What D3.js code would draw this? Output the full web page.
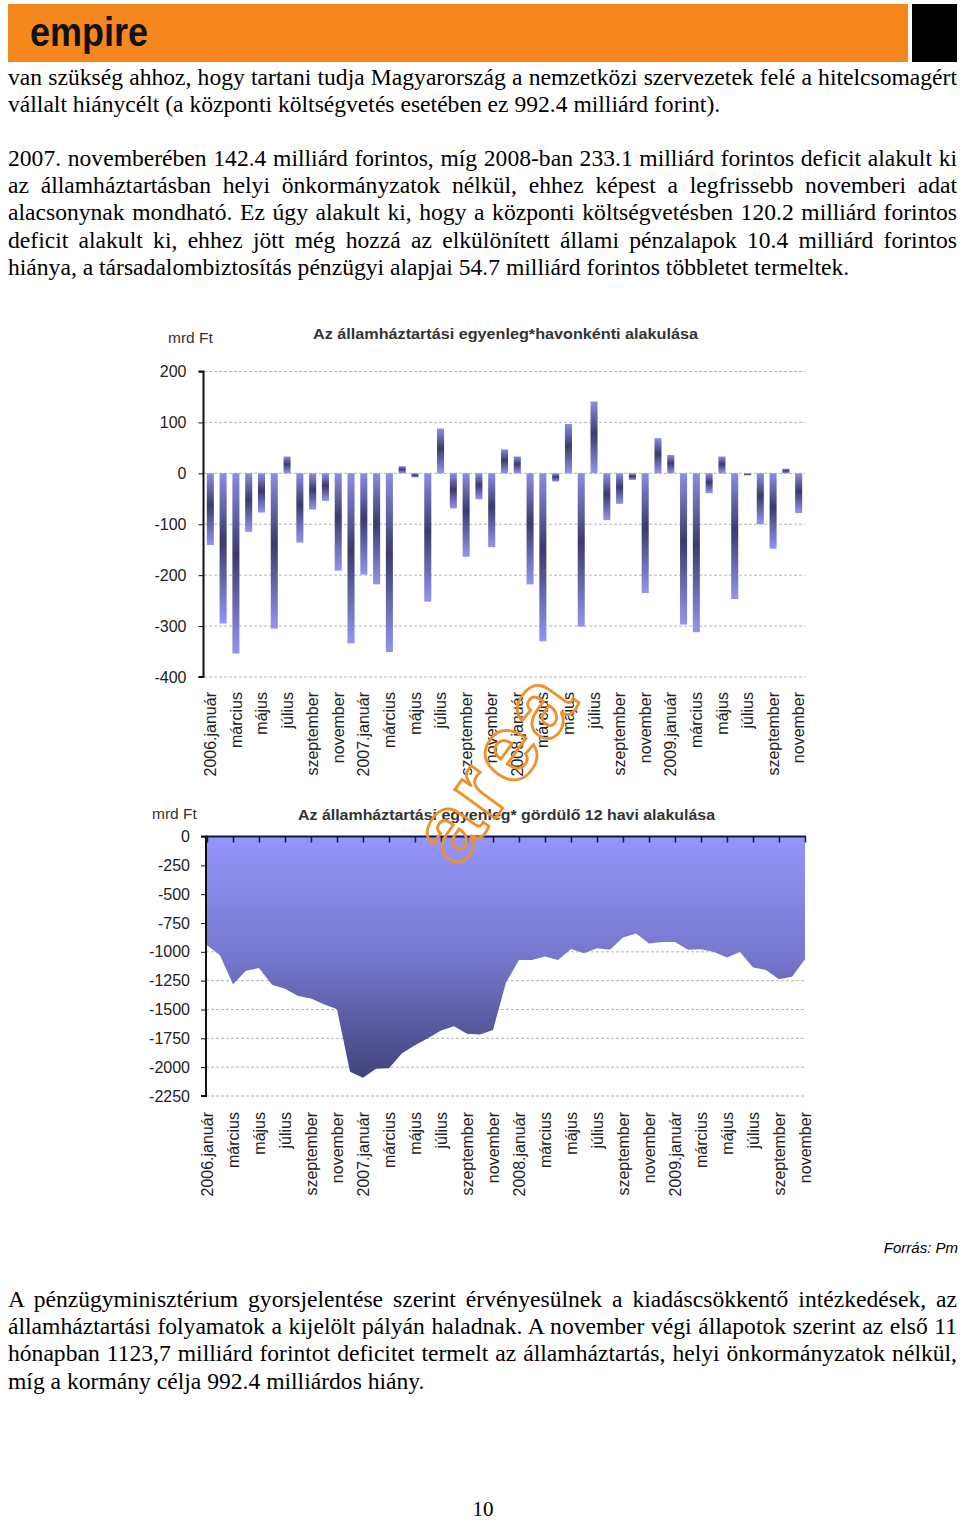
<!DOCTYPE html>
<html><head><meta charset="utf-8">
<script src="https://cdn.jsdelivr.net/npm/d3@7"></script>
<style>body{margin:0;background:#fff}svg{display:block}</style>
</head><body>
<svg id="page" width="960" height="1521"></svg>
<script>
// ---------- DATA ----------
const years = [2006, 2007, 2008, 2009];
const monthNames = ["január","február","március","április","május","június","július","augusztus","szeptember","október","november","december"];
const tickLabels = ["2006.január","március","május","július","szeptember","november",
  "2007.január","március","május","július","szeptember","november",
  "2008.január","március","május","július","szeptember","november",
  "2009.január","március","május","július","szeptember","november"];
const monthlyBalance = [
  -141,-295,-354,-115,-77,-305,33,-136,-71,-54,-191,-334,
  -199,-218,-351,14,-8,-252,88,-69,-164,-51,-145,47,
  33,-218,-330,-16,97,-301,141,-92,-60,-13,-235,69,
  36,-297,-312,-39,33,-247,-4,-100,-148,9,-78];
const rolling12 = [
  -943,-1030,-1281,-1165,-1140,-1285,-1320,-1384,-1405,-1455,-1498,-2040,
  -2091,-2013,-2010,-1880,-1810,-1750,-1683,-1645,-1710,-1716,-1677,-1266,
  -1070,-1070,-1041,-1070,-975,-1012,-969,-983,-876,-842,-928,-914,
  -914,-983,-977,-1001,-1050,-1001,-1136,-1157,-1238,-1215,-1064];
const ticks1 = [200,100,0,-100,-200,-300,-400];
const ticks2 = [0,-250,-500,-750,-1000,-1250,-1500,-1750,-2000,-2250];
const title1 = "Az államháztartási egyenleg*havonkénti alakulása";
const title2 = "Az államháztartási egyenleg* gördülő 12 havi alakulása";
const unitLabel = "mrd Ft";
const para1 = ["van szükség ahhoz, hogy tartani tudja Magyarország a nemzetközi szervezetek felé a hitelcsomagért",
  "vállalt hiánycélt (a központi költségvetés esetében ez 992.4 milliárd forint)."];
const para2 = ["2007. novemberében 142.4 milliárd forintos, míg 2008-ban 233.1 milliárd forintos deficit alakult ki",
  "az államháztartásban helyi önkormányzatok nélkül, ehhez képest a legfrissebb novemberi adat",
  "alacsonynak mondható. Ez úgy alakult ki, hogy a központi költségvetésben 120.2 milliárd forintos",
  "deficit alakult ki, ehhez jött még hozzá az elkülönített állami pénzalapok 10.4 milliárd forintos",
  "hiánya, a társadalombiztosítás pénzügyi alapjai 54.7 milliárd forintos többletet termeltek."];
const para3 = ["A pénzügyminisztérium gyorsjelentése szerint érvényesülnek a kiadáscsökkentő intézkedések, az",
  "államháztartási folyamatok a kijelölt pályán haladnak. A november végi állapotok szerint az első 11",
  "hónapban 1123,7 milliárd forintot deficitet termelt az államháztartás, helyi önkormányzatok nélkül,",
  "míg a kormány célja 992.4 milliárdos hiány."];
const sourceNote = "Forrás: Pm";
const pageNumber = "10";

const categories = [];
years.forEach(y => monthNames.forEach(m => categories.push(y + "." + m)));
categories.length = monthlyBalance.length;

// ---------- PAGE ----------
const svg = d3.select("#page");
svg.append("rect").attr("width",960).attr("height",1521).attr("fill","#fff");

const defs = svg.append("defs");
const bg = defs.append("linearGradient").attr("id","barGrad").attr("x1",0).attr("y1",0).attr("x2",0).attr("y2",1);
bg.append("stop").attr("offset","0%").attr("stop-color","#8c8ce4");
bg.append("stop").attr("offset","45%").attr("stop-color","#3b3b6b");
bg.append("stop").attr("offset","100%").attr("stop-color","#9494f2");
const ag = defs.append("linearGradient").attr("id","areaGrad").attr("gradientUnits","userSpaceOnUse")
  .attr("x1",0).attr("y1",836).attr("x2",0).attr("y2",1082);
ag.append("stop").attr("offset","0%").attr("stop-color","#9696fb");
ag.append("stop").attr("offset","50%").attr("stop-color","#7676cc");
ag.append("stop").attr("offset","100%").attr("stop-color","#41417a");

// header
svg.append("rect").attr("x",8).attr("y",4).attr("width",900).attr("height",58).attr("fill","#f5871f");
svg.append("rect").attr("x",912).attr("y",4).attr("width",45).attr("height",58).attr("fill","#000");
svg.append("text").attr("x",30).attr("y",46).attr("font-family","Liberation Sans, Arial").attr("font-weight","bold")
  .attr("font-size",40).attr("textLength",118).attr("lengthAdjust","spacingAndGlyphs").attr("fill","#111").text("empire");

// body text
function paragraph(lines, firstBaseline) {
  lines.forEach((t, i) => {
    const el = svg.append("text").attr("x",8).attr("y",firstBaseline + i*27.2)
      .attr("font-family","Liberation Serif, Times New Roman, serif").attr("font-size",23.6).attr("fill","#000").text(t);
    if (i < lines.length - 1) {
      const nat = el.node().getComputedTextLength();
      const spaces = (t.match(/ /g) || []).length;
      if (spaces) el.attr("word-spacing", (949 - nat) / spaces);
    }
  });
}
paragraph(para1, 85);
paragraph(para2, 166);
paragraph(para3, 1307);

svg.append("text").attr("x",958).attr("y",1253).attr("text-anchor","end").attr("font-family","Liberation Sans, Arial")
  .attr("font-style","italic").attr("font-size",15).text(sourceNote);
svg.append("text").attr("x",483).attr("y",1516).attr("text-anchor","middle").attr("font-family","Liberation Serif, serif")
  .attr("font-size",21).text(pageNumber);

const sans = "Liberation Sans, Arial, sans-serif";
const fmt = d => String(d);

// ---------- CHART 1 ----------
const x1 = d3.scaleBand().domain(categories).range([204, 805]).paddingInner(0.45).paddingOuter(0.22);
const y1 = d3.scaleLinear().domain([-400, 200]).range([677, 371.5]);
const g1 = svg.append("g");
g1.selectAll("line.grid").data(ticks1).join("line").attr("class","grid")
  .attr("x1",204).attr("x2",805).attr("y1",d=>y1(d)).attr("y2",d=>y1(d))
  .attr("stroke","#b5b5b5").attr("stroke-dasharray","3,2");
g1.selectAll("rect.bar").data(monthlyBalance).join("rect").attr("class","bar")
  .attr("x",(d,i)=>x1(categories[i])).attr("width",x1.bandwidth())
  .attr("y",d=>y1(Math.max(0,d))).attr("height",d=>Math.max(1,Math.abs(y1(d)-y1(0))))
  .attr("fill","url(#barGrad)");
const ax1 = g1.append("g").attr("transform","translate(203.5,0)")
  .call(d3.axisLeft(y1).tickValues(ticks1).tickSize(5).tickPadding(12).tickFormat(fmt));
ax1.select(".domain").attr("stroke","#111").attr("stroke-width",2).attr("d","M-5,371.5H0V677H-5");
ax1.selectAll(".tick line").attr("stroke","#111");
ax1.selectAll("text").attr("font-family",sans).attr("font-size",16).attr("fill","#222");
g1.selectAll("text.xl").data(tickLabels).join("text").attr("class","xl")
  .attr("transform",(d,k)=>`translate(${x1(categories[k*2]) + x1.bandwidth()/2},692) rotate(-90)`)
  .attr("text-anchor","end").attr("dy","0.35em").attr("font-family",sans).attr("font-size",16).attr("fill","#222").text(d=>d);
g1.append("text").attr("x",168).attr("y",343).attr("font-family",sans).attr("font-size",15.5).attr("fill","#333").text(unitLabel);
g1.append("text").attr("x",313).attr("y",339).attr("font-family",sans).attr("font-size",15).attr("font-weight","bold")
  .attr("textLength",385).attr("lengthAdjust","spacingAndGlyphs").attr("fill","#333").text(title1);

// ---------- CHART 2 ----------
const x2 = d3.scalePoint().domain(categories).range([207, 805]);
const y2 = d3.scaleLinear().domain([-2250, 0]).range([1096, 836.5]);
const g2 = svg.append("g");
g2.selectAll("line.grid").data(ticks2.slice(1)).join("line").attr("class","grid")
  .attr("x1",206).attr("x2",806).attr("y1",d=>y2(d)).attr("y2",d=>y2(d))
  .attr("stroke","#b5b5b5").attr("stroke-dasharray","3,2");
const area = d3.area().x((d,i)=>x2(categories[i])).y0(y2(0)).y1(d=>y2(d));
g2.append("path").datum(rolling12).attr("d",area).attr("fill","url(#areaGrad)");
const ax2 = g2.append("g").attr("transform","translate(206,0)")
  .call(d3.axisLeft(y2).tickValues(ticks2).tickSize(5).tickPadding(11).tickFormat(fmt));
ax2.select(".domain").attr("stroke","#111").attr("stroke-width",2).attr("d","M-5,836.5H0V1096H-5");
ax2.selectAll(".tick line").attr("stroke","#111");
ax2.selectAll("text").attr("font-family",sans).attr("font-size",16).attr("fill","#222");
// top category axis at zero
const tickCats = categories.filter((c,i)=>i%2===0);
const axTop = g2.append("g").attr("transform",`translate(0,${y2(0)})`)
  .call(d3.axisBottom(x2).tickValues(tickCats).tickSize(6).tickFormat(""));
axTop.select(".domain").attr("stroke","#15154a").attr("stroke-width",2).attr("d","M206,0H806");
axTop.selectAll(".tick line").attr("stroke","#15154a").attr("stroke-width",1.5);
g2.selectAll("text.xl").data(tickLabels).join("text").attr("class","xl")
  .attr("transform",(d,k)=>`translate(${x2(tickCats[k])},1112) rotate(-90)`)
  .attr("text-anchor","end").attr("dy","0.35em").attr("font-family",sans).attr("font-size",16).attr("fill","#222").text(d=>d);
g2.append("text").attr("x",152).attr("y",819).attr("font-family",sans).attr("font-size",15.5).attr("fill","#333").text(unitLabel);
g2.append("text").attr("x",298).attr("y",820).attr("font-family",sans).attr("font-size",15).attr("font-weight","bold")
  .attr("textLength",417).attr("lengthAdjust","spacingAndGlyphs").attr("fill","#333").text(title2);

// watermark
svg.append("text").attr("transform","translate(492,767) rotate(-54)").attr("text-anchor","middle").attr("dy","0.35em")
  .attr("font-family",sans).attr("font-weight","bold").attr("font-size",94).attr("textLength",205).attr("lengthAdjust","spacing")
  .attr("fill","none").attr("stroke","#f0902a").attr("stroke-width",2.8).text("area");
</script>
</body></html>
